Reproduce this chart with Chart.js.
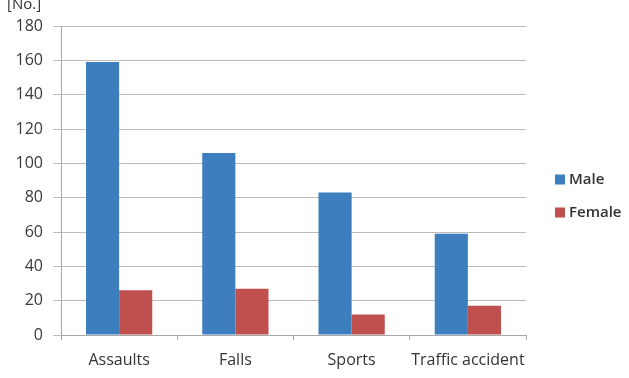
<!DOCTYPE html>
<html><head><meta charset="utf-8">
<script src="https://cdn.jsdelivr.net/npm/chart.js@4"></script>
<style>html,body{margin:0;padding:0;background:#fff}#wrap{width:629px;height:378px}</style>
</head><body><div id="wrap"><canvas id="c" width="629" height="378"></canvas></div>
<script>
const categories = ["Assaults", "Falls", "Sports", "Traffic accident"];
const maleValues = [159, 106, 83, 59];
const femaleValues = [26, 27, 12, 17];
const seriesNames = ["Male", "Female"];
const seriesColors = ["#3d7ebf", "#c0504d"];
const yUnit = "[No.]";

const extrasPlugin = {
  id: 'extras',
  afterDraw(chart) {
    const ctx = chart.ctx;
    ctx.save();
    ctx.font = '15px "Open Sans"';
    ctx.fillStyle = '#333';
    ctx.textBaseline = 'alphabetic';
    ctx.fillText(yUnit, 7, 9);
    // legend
    const lx = chart.chartArea.right + 29;
    const cy0 = 179.5, gap = 33;
    chart.data.datasets.forEach((ds, i) => {
      const cy = cy0 + i * gap;
      ctx.fillStyle = ds.backgroundColor;
      ctx.fillRect(lx, cy - 5, 10, 10);
      ctx.fillStyle = '#333';
      ctx.font = '600 15px "Open Sans"';
      ctx.textBaseline = 'middle';
      ctx.fillText(ds.label, lx + 14, cy);
    });
    ctx.restore();
  }
};

new Chart(document.getElementById('c'), {
  type: 'bar',
  data: {
    labels: categories,
    datasets: [
      { label: seriesNames[0], data: maleValues, backgroundColor: seriesColors[0] },
      { label: seriesNames[1], data: femaleValues, backgroundColor: seriesColors[1] }
    ]
  },
  options: {
    responsive: false,
    animation: false,
    layout: { padding: { top: 26, left: 0, right: 103, bottom: 0 } },
    datasets: { bar: { categoryPercentage: 0.57, barPercentage: 1.0 } },
    scales: {
      x: {
        afterFit(scale) { scale.height = 43; },
        grid: { display: true, drawOnChartArea: false, drawTicks: true, tickLength: 5, color: '#a8a8a8' },
        border: { color: '#a8a8a8' },
        ticks: { autoSkip: false, color: '#333', font: { family: '"Open Sans"', size: 16 }, padding: 11, maxRotation: 0, minRotation: 0 }
      },
      y: {
        min: 0, max: 180,
        afterFit(scale) { scale.width = 61; },
        ticks: { stepSize: 20, color: '#3a3a3a', font: { family: '"Open Sans"', size: 16 }, padding: 10 },
        grid: { color: '#bcbcbc', tickLength: 8 },
        border: { color: '#a8a8a8' }
      }
    },
    plugins: {
      legend: { display: false },
      tooltip: { enabled: false }
    }
  },
  plugins: [extrasPlugin]
});
</script></body></html>
